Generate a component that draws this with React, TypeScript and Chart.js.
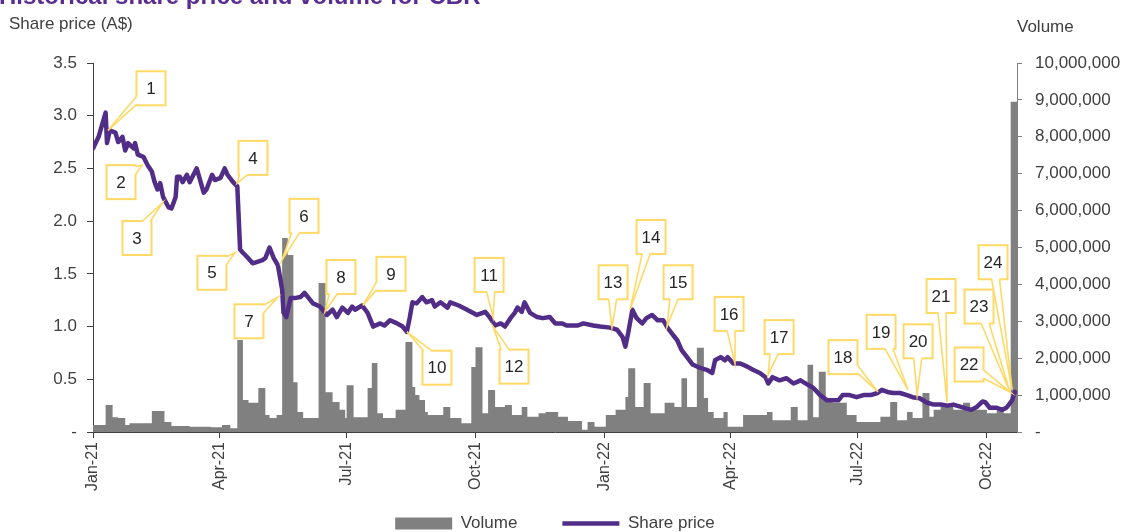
import React, { useEffect, useRef } from "react";
import { Chart, registerables } from "chart.js";

Chart.register(...registerables);

const FONT = "'Liberation Sans', Arial, sans-serif";
const PURPLE = "#512D87";
const GRAY = "#808080";
const YELLOW = "#FFD966";

// x axis: days since 1 Jan 2021
const tickDays = [0, 90, 181, 273, 365, 455, 546, 638];
const tickLabels = ["Jan-21", "Apr-21", "Jul-21", "Oct-21", "Jan-22", "Apr-22", "Jul-22", "Oct-22"];

const priceDays = [0, 4, 9, 10, 12, 16, 18, 21, 23, 25, 29, 30, 32, 36, 39, 42, 44, 46, 48, 50, 54, 56, 59, 60, 62, 64, 67, 69, 74, 76, 79, 81, 85, 87, 91, 94, 96, 100, 103, 105, 107, 110, 114, 121, 123, 126, 129, 132, 135, 136, 138, 141, 144, 148, 151, 154, 157, 162, 167, 171, 174, 178, 182, 185, 187, 192, 196, 200, 205, 208, 212, 217, 221, 224, 226, 228, 231, 235, 238, 242, 244, 248, 253, 255, 261, 267, 274, 280, 283, 287, 291, 294, 298, 301, 303, 306, 308, 312, 317, 321, 326, 330, 335, 338, 346, 350, 357, 362, 369, 374, 378, 380, 382, 385, 388, 392, 395, 399, 403, 407, 410, 414, 417, 420, 424, 428, 433, 438, 442, 444, 448, 451, 453, 457, 462, 467, 471, 476, 480, 482, 485, 490, 495, 500, 505, 510, 514, 519, 524, 528, 532, 535, 540, 545, 550, 555, 560, 563, 567, 571, 576, 581, 585, 590, 595, 600, 605, 610, 614, 619, 624, 627, 631, 635, 637, 640, 645, 649, 652, 656, 658];
const priceValues = [2.69, 2.80, 3.03, 2.74, 2.86, 2.84, 2.75, 2.80, 2.67, 2.74, 2.69, 2.74, 2.63, 2.61, 2.53, 2.47, 2.37, 2.30, 2.36, 2.23, 2.13, 2.12, 2.23, 2.42, 2.42, 2.37, 2.44, 2.37, 2.50, 2.41, 2.27, 2.30, 2.44, 2.39, 2.41, 2.50, 2.44, 2.37, 2.33, 1.73, 1.70, 1.66, 1.60, 1.63, 1.65, 1.75, 1.65, 1.58, 1.35, 1.13, 1.09, 1.27, 1.27, 1.28, 1.32, 1.27, 1.22, 1.19, 1.11, 1.16, 1.09, 1.18, 1.13, 1.19, 1.16, 1.20, 1.13, 1.00, 1.03, 1.01, 1.06, 1.03, 1.00, 0.95, 1.08, 1.23, 1.22, 1.28, 1.23, 1.25, 1.19, 1.23, 1.18, 1.23, 1.20, 1.16, 1.11, 1.14, 1.09, 1.01, 1.03, 1.00, 1.08, 1.13, 1.18, 1.14, 1.23, 1.13, 1.09, 1.08, 1.09, 1.03, 1.03, 1.01, 1.01, 1.03, 1.01, 1.00, 0.99, 0.97, 0.90, 0.81, 0.94, 1.16, 1.08, 1.03, 1.08, 1.11, 1.06, 1.06, 0.99, 0.92, 0.87, 0.78, 0.71, 0.64, 0.61, 0.59, 0.56, 0.68, 0.71, 0.68, 0.71, 0.65, 0.65, 0.62, 0.59, 0.56, 0.52, 0.46, 0.52, 0.49, 0.51, 0.46, 0.49, 0.45, 0.42, 0.35, 0.30, 0.30, 0.30, 0.35, 0.35, 0.33, 0.35, 0.35, 0.37, 0.40, 0.38, 0.37, 0.37, 0.35, 0.33, 0.32, 0.28, 0.26, 0.26, 0.25, 0.26, 0.24, 0.22, 0.21, 0.24, 0.29, 0.28, 0.23, 0.23, 0.21, 0.23, 0.30, 0.38];

const volumeDays = [0, 9, 14, 18, 23, 26, 42, 51, 56, 69, 84, 92, 98, 103, 107, 111, 118, 123, 126, 131, 135, 139, 143, 146, 150, 161, 166, 171, 176, 180, 181, 186, 196, 199, 203, 207, 216, 223, 228, 230, 233, 237, 239, 250, 255, 263, 270, 273, 278, 282, 287, 294, 299, 306, 310, 318, 323, 332, 339, 349, 353, 358, 366, 373, 380, 382, 387, 393, 398, 408, 415, 420, 424, 431, 436, 439, 443, 450, 453, 464, 481, 485, 498, 503, 510, 514, 518, 523, 528, 538, 545, 562, 569, 574, 581, 585, 592, 597, 600, 605, 614, 621, 626, 638, 645, 650, 655, 659.5];
const volumeValues = [190000, 730000, 400000, 380000, 190000, 240000, 570000, 270000, 160000, 140000, 128000, 190000, 100000, 2490000, 870000, 790000, 1190000, 460000, 380000, 460000, 5260000, 4800000, 1350000, 540000, 380000, 4040000, 1080000, 810000, 600000, 380000, 1270000, 400000, 1190000, 1870000, 510000, 380000, 600000, 2440000, 1220000, 1000000, 870000, 540000, 460000, 680000, 380000, 240000, 1760000, 2300000, 510000, 1140000, 680000, 730000, 460000, 680000, 410000, 510000, 540000, 410000, 300000, 60000, 270000, 140000, 460000, 600000, 950000, 1730000, 680000, 1330000, 510000, 790000, 680000, 1460000, 680000, 2280000, 920000, 540000, 380000, 540000, 140000, 460000, 540000, 320000, 680000, 320000, 1820000, 400000, 1630000, 870000, 790000, 460000, 270000, 410000, 810000, 320000, 540000, 380000, 1060000, 410000, 600000, 680000, 600000, 790000, 600000, 510000, 600000, 510000, 8950000, 8950000];

// callouts: number, tip position (day, price), box centre (day, price)
const calloutIds = [1, 2, 3, 4, 5, 6, 7, 8, 9, 10, 11, 12, 13, 14, 15, 16, 17, 18, 19, 20, 21, 22, 23, 24];
const calloutTipDay = [10.7, 35.0, 49.3, 102.8, 101.4, 134.9, 132.0, 165.6, 192.7, 224.1, 285.5, 285.5, 370.4, 383.3, 409.7, 458.2, 481.8, 560.3, 581.7, 588.2, 609.6, 654.5, 654.5, 656.0];
const calloutTipPrice = [2.86, 2.53, 2.17, 2.36, 1.70, 1.63, 1.28, 1.14, 1.20, 0.95, 1.09, 1.00, 0.99, 1.16, 1.00, 0.65, 0.54, 0.38, 0.40, 0.35, 0.28, 0.38, 0.38, 0.40];
const calloutBoxDay = [41.4, 20.0, 31.4, 114.2, 84.9, 150.6, 111.3, 177.0, 212.7, 245.5, 282.7, 300.5, 371.2, 398.3, 417.6, 454.0, 489.7, 535.3, 562.5, 588.9, 605.3, 625.3, 632.4, 642.4];
const calloutBoxPrice = [3.26, 2.37, 1.84, 2.60, 1.51, 2.05, 1.05, 1.47, 1.50, 0.61, 1.49, 0.62, 1.42, 1.85, 1.42, 1.12, 0.90, 0.71, 0.95, 0.86, 1.29, 0.64, 1.19, 1.61];

const calloutPlugin = {
  id: "callouts",
  afterDatasetsDraw(chart: any) {
    const { ctx } = chart;
    const xs = chart.scales.x;
    const ys = chart.scales.y;
    const hw = 14.5;
    const hh = 17;
    const w = 4;
    ctx.save();
    calloutIds.forEach((id, i) => {
      const tx = xs.getPixelForValue(calloutTipDay[i]);
      const ty = ys.getPixelForValue(calloutTipPrice[i]);
      const cx = xs.getPixelForValue(calloutBoxDay[i]);
      const cy = ys.getPixelForValue(calloutBoxPrice[i]);
      const dx = tx - cx;
      const dy = ty - cy;
      const tX = dx !== 0 ? hw / Math.abs(dx) : Infinity;
      const tY = dy !== 0 ? hh / Math.abs(dy) : Infinity;
      let b1: number[], b2: number[], i1: number[], i2: number[];
      if (tX < tY) {
        const sx = Math.sign(dx);
        const ex = cx + sx * hw;
        let ey = cy + dy * tX;
        ey = Math.max(cy - hh + w + 1, Math.min(cy + hh - w - 1, ey));
        b1 = [ex, ey - w];
        b2 = [ex, ey + w];
        i1 = [ex - sx * 2, ey - w + 1];
        i2 = [ex - sx * 2, ey + w - 1];
      } else {
        const sy = Math.sign(dy);
        const ey = cy + sy * hh;
        let ex = cx + dx * tY;
        ex = Math.max(cx - hw + w + 1, Math.min(cx + hw - w - 1, ex));
        b1 = [ex - w, ey];
        b2 = [ex + w, ey];
        i1 = [ex - w + 1, ey - sy * 2];
        i2 = [ex + w - 1, ey - sy * 2];
      }
      ctx.lineWidth = 2;
      ctx.strokeStyle = YELLOW;
      ctx.fillStyle = "#ffffff";
      ctx.fillRect(cx - hw, cy - hh, hw * 2, hh * 2);
      ctx.strokeRect(cx - hw, cy - hh, hw * 2, hh * 2);
      ctx.beginPath();
      ctx.moveTo(i1[0], i1[1]);
      ctx.lineTo(b1[0], b1[1]);
      ctx.lineTo(tx, ty);
      ctx.lineTo(b2[0], b2[1]);
      ctx.lineTo(i2[0], i2[1]);
      ctx.closePath();
      ctx.fill();
      ctx.lineWidth = 1.6;
      ctx.beginPath();
      ctx.moveTo(b1[0], b1[1]);
      ctx.lineTo(tx, ty);
      ctx.lineTo(b2[0], b2[1]);
      ctx.stroke();
      ctx.fillStyle = "#262626";
      ctx.font = `17px ${FONT}`;
      ctx.textAlign = "center";
      ctx.textBaseline = "middle";
      ctx.fillText(String(id), cx, cy + 1);
    });
    ctx.restore();
  },
};

// keep the legend row just under the rotated date labels
const legendPlacePlugin = {
  id: "legendPlace",
  afterLayout(chart: any) {
    const lg = chart.legend;
    if (!lg) return;
    lg.top = chart.chartArea.bottom + 38;
    lg.bottom = chart.height;
    lg.height = lg.bottom - lg.top;
  },
};

export default function App() {
  const canvasRef = useRef<HTMLCanvasElement | null>(null);

  useEffect(() => {
    const canvas = canvasRef.current;
    if (!canvas) return;
    const chart = new Chart(canvas, {
      type: "line",
      data: {
        datasets: [
          {
            label: "Share price",
            data: priceDays.map((d, i) => ({ x: d, y: priceValues[i] })),
            yAxisID: "y",
            borderColor: PURPLE,
            backgroundColor: PURPLE,
            borderWidth: 4.5,
            pointRadius: 0,
            pointStyle: "line",
            tension: 0,
            borderJoinStyle: "round",
            borderCapStyle: "round",
            fill: false,
          },
          {
            label: "Volume",
            data: volumeDays.map((d, i) => ({ x: d, y: volumeValues[i] })),
            yAxisID: "y1",
            stepped: true,
            fill: "origin",
            backgroundColor: GRAY,
            borderColor: "rgba(0,0,0,0)",
            borderWidth: 0,
            pointRadius: 0,
            pointStyle: "rect",
          },
        ],
      } as any,
      options: {
        animation: false,
        responsive: false,
        events: [],
        layout: { padding: { top: 63, left: 0, right: 0, bottom: 0 } },
        scales: {
          x: {
            type: "linear",
            min: 0,
            max: 659.5,
            afterBuildTicks: (s: any) => {
              s.ticks = tickDays.map((v) => ({ value: v }));
            },
            afterFit: (s: any) => {
              s.height = 62;
            },
            ticks: {
              autoSkip: false,
              minRotation: 90,
              maxRotation: 90,
              padding: 4,
              color: "#404040",
              font: { family: FONT, size: 16 },
              callback: (v: any) => tickLabels[tickDays.indexOf(Number(v))] ?? "",
            },
            grid: { drawOnChartArea: false, drawTicks: true, tickLength: 6, color: "#404040" },
            border: { display: true, color: "#404040", width: 1 },
          },
          y: {
            type: "linear",
            position: "left",
            min: 0,
            max: 3.5,
            afterFit: (s: any) => {
              s.width = 93;
            },
            ticks: {
              stepSize: 0.5,
              padding: 10,
              color: "#404040",
              font: { family: FONT, size: 17 },
              callback: (v: any) => (Number(v) === 0 ? "-" : Number(v).toFixed(1)),
            },
            grid: { drawOnChartArea: false, drawTicks: true, tickLength: 6, color: "#404040" },
            border: { display: true, color: "#404040", width: 1 },
          },
          y1: {
            type: "linear",
            position: "right",
            min: 0,
            max: 10000000,
            afterFit: (s: any) => {
              s.width = 109;
            },
            ticks: {
              stepSize: 1000000,
              padding: 13,
              color: "#404040",
              font: { family: FONT, size: 17 },
              callback: (v: any) => (Number(v) === 0 ? "-" : Number(v).toLocaleString("en-US")),
            },
            grid: { drawOnChartArea: false, drawTicks: true, tickLength: 5, color: "#808080" },
            border: { display: true, color: "#808080", width: 1 },
          },
        },
        plugins: {
          tooltip: { enabled: false },
          title: { display: false },
          legend: {
            position: "bottom",
            fullSize: false,
            maxHeight: 38,
            labels: {
              usePointStyle: true,
              pointStyleWidth: 57,
              boxHeight: 12,
              padding: 45,
              color: "#404040",
              font: { family: FONT, size: 17 },
              sort: (a: any, b: any) => b.datasetIndex - a.datasetIndex,
            },
          },
        },
      } as any,
      plugins: [calloutPlugin, legendPlacePlugin],
    });
    return () => chart.destroy();
  }, []);

  return (
    <div style={{ position: "fixed", left: 0, top: 0, width: 1126, height: 532, overflow: "hidden", background: "#fff" }}>
      <canvas ref={canvasRef} width={1126} height={532} style={{ position: "absolute", left: 0, top: 0 }} />
      <div style={{ position: "absolute", left: -1, top: -16, font: `bold 24px/24px ${FONT}`, color: "#5B2C90", whiteSpace: "nowrap" }}>
        Historical share price and volume for CBR
      </div>
      <div style={{ position: "absolute", left: 9, top: 15, font: `17px/17px ${FONT}`, color: "#404040", whiteSpace: "nowrap" }}>
        Share price (A$)
      </div>
      <div style={{ position: "absolute", left: 1017, top: 18, font: `17px/17px ${FONT}`, color: "#404040", whiteSpace: "nowrap" }}>
        Volume
      </div>
    </div>
  );
}
